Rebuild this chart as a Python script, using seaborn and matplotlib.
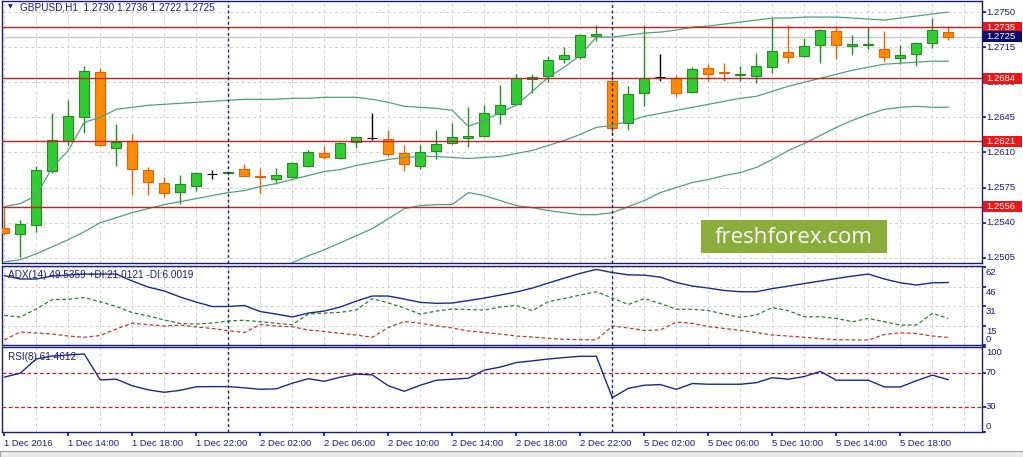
import numpy as np
import matplotlib
matplotlib.use("Agg")
import matplotlib.pyplot as plt
import seaborn as sns
from matplotlib.patches import Rectangle
from matplotlib.transforms import blended_transform_factory

# GBPUSD H1 candles, 1 Dec 10:00 .. 5 Dec 21:00
opens = [1.2535, 1.2529, 1.2538, 1.2592, 1.2621, 1.2645, 1.2690, 1.2614, 1.2621, 1.2593,
         1.2580, 1.2571, 1.2577, 1.2589, 1.2590, 1.2594, 1.2587, 1.2584, 1.2586, 1.2597,
         1.2609, 1.2604, 1.2620, 1.2624, 1.2623, 1.2609, 1.2597, 1.2611, 1.2619, 1.2624,
         1.2626, 1.2648, 1.2658, 1.2683, 1.2686, 1.2703, 1.2705, 1.2726, 1.2681, 1.2639,
         1.2669, 1.2685, 1.2684, 1.2670, 1.2694, 1.2690, 1.2687, 1.2686, 1.2695, 1.2710,
         1.2706, 1.2717, 1.2731, 1.2716, 1.2717, 1.2713, 1.2704, 1.2708, 1.2719, 1.2730]
highs = [1.2555, 1.2543, 1.2597, 1.2649, 1.2662, 1.2696, 1.2694, 1.2638, 1.2628, 1.2596,
         1.2586, 1.2588, 1.2591, 1.2593, 1.2592, 1.2598, 1.2595, 1.2595, 1.2600, 1.2612,
         1.2616, 1.2620, 1.2626, 1.2649, 1.2632, 1.2617, 1.2617, 1.2632, 1.2639, 1.2655,
         1.2657, 1.2677, 1.2688, 1.2688, 1.2706, 1.2715, 1.2728, 1.2737, 1.2689, 1.2676,
         1.2737, 1.2708, 1.2687, 1.2695, 1.2698, 1.2699, 1.2696, 1.2709, 1.2744, 1.2737,
         1.2724, 1.2733, 1.2736, 1.2727, 1.2735, 1.2731, 1.2717, 1.2720, 1.2744, 1.2736]
lows = [1.2528, 1.2506, 1.2531, 1.2590, 1.2617, 1.2629, 1.2616, 1.2597, 1.2568, 1.2568,
        1.2566, 1.2559, 1.2572, 1.2584, 1.2589, 1.2587, 1.2569, 1.2579, 1.2585, 1.2596,
        1.2603, 1.2603, 1.2614, 1.2622, 1.2606, 1.2592, 1.2594, 1.2603, 1.2618, 1.2615,
        1.2625, 1.2638, 1.2657, 1.2669, 1.2680, 1.2699, 1.2703, 1.2721, 1.2627, 1.2632,
        1.2656, 1.2681, 1.2665, 1.2669, 1.2681, 1.2681, 1.2681, 1.2679, 1.2689, 1.2699,
        1.2705, 1.2699, 1.2703, 1.2707, 1.2713, 1.2700, 1.2698, 1.2696, 1.2714, 1.2722]
closes = [1.2530, 1.2539, 1.2593, 1.2622, 1.2646, 1.2691, 1.2617, 1.2620, 1.2594, 1.2581,
          1.2570, 1.2579, 1.2590, 1.2589, 1.2591, 1.2587, 1.2586, 1.2588, 1.2599, 1.2610,
          1.2605, 1.2619, 1.2625, 1.2624, 1.2608, 1.2598, 1.2610, 1.2618, 1.2625, 1.2626,
          1.2649, 1.2657, 1.2684, 1.2685, 1.2702, 1.2707, 1.2727, 1.2728, 1.2634, 1.2668,
          1.2684, 1.2685, 1.2669, 1.2693, 1.2688, 1.2689, 1.2688, 1.2696, 1.2711, 1.2705,
          1.2716, 1.2732, 1.2717, 1.2718, 1.2718, 1.2705, 1.2707, 1.2719, 1.2732, 1.2725]

bb_upper = [1.2556, 1.2559, 1.2567, 1.2595, 1.2612, 1.2640, 1.2645, 1.2653, 1.2655, 1.2657,
            1.2658, 1.2659, 1.2660, 1.2661, 1.2662, 1.2663, 1.2663, 1.2663, 1.2664, 1.2664,
            1.2665, 1.2665, 1.2665, 1.2663, 1.2660, 1.2656, 1.2655, 1.2654, 1.2652, 1.2636,
            1.2642, 1.2650, 1.2657, 1.2671, 1.2685, 1.2695, 1.2707, 1.2725, 1.2725, 1.2727,
            1.2729, 1.2730, 1.2732, 1.2735, 1.2736, 1.2738, 1.2740, 1.2742, 1.2744, 1.2744,
            1.2745, 1.2745, 1.2745, 1.2744, 1.2743, 1.2742, 1.2744, 1.2746, 1.2748, 1.2750]
bb_middle = [1.2501, 1.2503, 1.2509, 1.2516, 1.2523, 1.2531, 1.2540, 1.2545, 1.2550, 1.2554,
             1.2558, 1.2561, 1.2564, 1.2567, 1.2570, 1.2572, 1.2576, 1.2579, 1.2583, 1.2587,
             1.2591, 1.2593, 1.2597, 1.2600, 1.2603, 1.2605, 1.2606, 1.2606, 1.2605, 1.2604,
             1.2605, 1.2606, 1.2609, 1.2612, 1.2617, 1.2622, 1.2628, 1.2635, 1.2637, 1.2641,
             1.2646, 1.2649, 1.2652, 1.2655, 1.2658, 1.2661, 1.2664, 1.2666, 1.2671, 1.2676,
             1.2680, 1.2684, 1.2688, 1.2692, 1.2695, 1.2698, 1.2699, 1.2700, 1.2701, 1.2701]
bb_lower = [1.2446, 1.2447, 1.2451, 1.2437, 1.2434, 1.2422, 1.2435, 1.2437, 1.2445, 1.2451,
            1.2458, 1.2463, 1.2468, 1.2473, 1.2478, 1.2481, 1.2489, 1.2495, 1.2500, 1.2507,
            1.2513, 1.2520, 1.2527, 1.2534, 1.2544, 1.2554, 1.2557, 1.2558, 1.2558, 1.2570,
            1.2567, 1.2562, 1.2557, 1.2555, 1.2552, 1.2550, 1.2548, 1.2548, 1.2550, 1.2556,
            1.2562, 1.2570, 1.2575, 1.2580, 1.2583, 1.2587, 1.2590, 1.2595, 1.2603, 1.2612,
            1.2619, 1.2627, 1.2635, 1.2642, 1.2648, 1.2653, 1.2655, 1.2656, 1.2655, 1.2655]

adx = [55.0, 52.3, 52.3, 54.6, 55.4, 56.2, 56.2, 56.2, 50.7, 45.9,
       42.8, 38.0, 34.0, 30.5, 30.5, 31.3, 26.5, 24.5, 22.2, 25.3,
       26.9, 30.1, 34.8, 38.8, 38.8, 36.4, 33.8, 33.0, 33.3, 35.2,
       37.2, 39.6, 42.0, 45.1, 49.1, 53.0, 56.8, 59.9, 57.4, 55.6,
       55.3, 53.8, 49.5, 46.7, 45.1, 43.2, 42.2, 42.2, 44.7, 46.7,
       48.7, 50.7, 52.7, 54.6, 56.2, 52.3, 49.3, 47.5, 49.3, 49.5]
plus_di = [23.4, 22.2, 28.5, 36.0, 36.2, 37.6, 34.3, 30.5, 25.7, 23.0,
           19.8, 17.0, 16.6, 17.4, 19.0, 19.6, 18.4, 17.2, 16.1, 24.5,
           25.3, 25.9, 27.7, 36.8, 33.3, 29.3, 24.5, 26.9, 28.5, 28.1,
           27.7, 30.1, 31.3, 27.2, 34.4, 36.8, 39.6, 42.2, 37.2, 32.1,
           36.8, 32.9, 28.3, 28.3, 27.3, 24.5, 21.9, 23.8, 29.7, 27.1,
           22.4, 22.4, 21.1, 18.4, 21.1, 18.4, 15.8, 15.8, 25.1, 21.0]
minus_di = [4.0, 10.3, 9.5, 8.7, 7.1, 6.1, 7.5, 12.7, 17.4, 16.1,
            15.0, 15.8, 14.3, 13.1, 11.3, 9.9, 16.2, 15.0, 14.5, 11.9,
            10.7, 9.3, 7.9, 6.1, 13.9, 18.6, 17.2, 15.2, 13.5, 11.1,
            9.9, 8.7, 7.1, 6.3, 5.3, 4.5, 4.2, 4.0, 15.0, 13.5,
            11.5, 11.9, 18.2, 17.2, 14.6, 13.1, 11.6, 9.9, 7.9, 7.1,
            6.1, 5.1, 4.2, 4.0, 4.0, 8.3, 9.7, 9.1, 7.1, 6.0]
rsi = [64.5, 69.2, 85.9, 89.4, 90.6, 91.8, 61.3, 62.1, 54.4, 49.6,
       46.7, 49.1, 53.2, 53.4, 53.4, 52.0, 50.2, 50.8, 57.4, 62.7,
       59.7, 64.5, 68.1, 67.2, 54.4, 47.9, 55.0, 60.9, 62.1, 63.3,
       72.8, 76.4, 81.7, 83.7, 85.9, 87.6, 89.1, 89.1, 40.4, 51.4,
       55.0, 55.8, 50.2, 57.0, 56.2, 56.2, 56.2, 58.0, 63.9, 62.1,
       65.3, 71.3, 60.9, 60.9, 60.9, 53.0, 53.0, 60.3, 66.9, 61.5]

levels = [1.2735, 1.2684, 1.2621, 1.2556]
last_price = 1.2725
price_ticks = [1.2750, 1.2715, 1.2680, 1.2645, 1.2610, 1.2575, 1.2540, 1.2505]
time_labels = ["1 Dec 2016", "1 Dec 14:00", "1 Dec 18:00", "1 Dec 22:00", "2 Dec 02:00",
               "2 Dec 06:00", "2 Dec 10:00", "2 Dec 14:00", "2 Dec 18:00", "2 Dec 22:00",
               "5 Dec 02:00", "5 Dec 06:00", "5 Dec 10:00", "5 Dec 14:00", "5 Dec 18:00"]
day_breaks = [14, 38]

sns.set_theme(style="white")
plt.rcParams["font.family"] = ["Liberation Sans", "DejaVu Sans"]

navy = "#1b1b78"
grid_c = "#cfcfcf"
band_c = "#4ea27a"
red_c = "#c81e1e"
fs = 6.8

W, H = 1023, 457
fig = plt.figure(figsize=(W / 100, H / 100), dpi=100)
fig.patch.set_facecolor("white")


def frac(x0, y0, x1, y1):
    return [x0 / W, 1 - y1 / H, (x1 - x0) / W, (y1 - y0) / H]


ax = fig.add_axes(frac(2, 1, 982, 263))
adx_ax = fig.add_axes(frac(2, 266, 982, 345))
rsi_ax = fig.add_axes(frac(2, 347, 982, 432))

bars = np.arange(len(opens))
o = np.array(opens)
c = np.array(closes)

for a in (ax, adx_ax, rsi_ax):
    a.set_xlim(-0.14, 61.1)
    a.set_facecolor("white")
    for s in a.spines.values():
        s.set_color(navy)
        s.set_linewidth(1)
    a.set_xticks(np.arange(0, 61, 2), minor=True)
    a.grid(which="minor", axis="x", color=grid_c, linestyle=(0, (3, 3)), linewidth=0.7)
    a.tick_params(axis="x", which="minor", length=0)
    a.tick_params(axis="y", which="both", left=False, right=True, labelleft=False,
                  labelright=False, length=3, color=navy, direction="out")
    for b in day_breaks:
        a.axvline(b, color=navy, linestyle=(0, (2, 2)), linewidth=1, zorder=7)

# ---- price panel
ax.set_ylim(1.24998, 1.27610)
ax.set_yticks(price_ticks)
ax.grid(which="major", axis="y", color=grid_c, linestyle=(0, (3, 3)), linewidth=0.7)
ax.set_xticks([])

up = c > o
down = c < o
fill = np.where(up, "#33cc33", np.where(down, "#ff8c00", "black"))
edge = np.where(up, "#248a24", np.where(down, "#e5600a", "black"))
ax.vlines(bars, lows, highs, colors=edge, linewidth=1, zorder=3)
ax.bar(bars, np.abs(c - o), bottom=np.minimum(o, c), width=0.62, color=fill,
       edgecolor=edge, linewidth=0.8, zorder=4)

for series in (bb_upper, bb_middle, bb_lower):
    sns.lineplot(x=bars, y=series, ax=ax, color=band_c, linewidth=0.9, zorder=5)

ax.axhline(last_price, color="#c8c8c8", linewidth=1, zorder=1)
for lv in levels:
    ax.axhline(lv, color=red_c, linewidth=1, zorder=6)

tr = blended_transform_factory(ax.transAxes, ax.transData)
for t in price_ticks:
    ax.text(1.004, t, f"{t:.4f}", transform=tr, ha="left", va="center", fontsize=fs,
            color=navy, clip_on=False)
box_h = 0.00110
for lv in levels:
    ax.add_patch(Rectangle((1.001, lv - box_h / 2), 0.0398, box_h, transform=tr,
                           facecolor="#e81818", edgecolor="none", clip_on=False, zorder=20))
    ax.text(1.004, lv, f"{lv:.4f}", transform=tr, ha="left", va="center", fontsize=fs,
            color="white", clip_on=False, zorder=21)
ax.add_patch(Rectangle((1.001, last_price - box_h / 2 + 0.00005), 0.0398, box_h, transform=tr,
                       facecolor="#0a0a6a", edgecolor="none", clip_on=False, zorder=20))
ax.text(1.004, last_price + 0.00005, f"{last_price:.4f}", transform=tr, ha="left",
        va="center", fontsize=fs, color="white", clip_on=False, zorder=21)

# ---- ADX panel
adx_ax.set_ylim(0, 62.6)
adx_ax.set_yticks([62, 46, 31, 15, 0])
adx_ax.grid(which="major", axis="y", color=grid_c, linestyle=(0, (3, 3)), linewidth=0.7)
adx_ax.set_xticks([])
sns.lineplot(x=bars, y=adx, ax=adx_ax, color="#1a2a8c", linewidth=1, zorder=5)
sns.lineplot(x=bars, y=plus_di, ax=adx_ax, color="#2e7d32", linewidth=0.9,
             linestyle=(0, (3, 2)), zorder=5)
sns.lineplot(x=bars, y=minus_di, ax=adx_ax, color="#c0392b", linewidth=0.9,
             linestyle=(0, (3, 2)), zorder=5)
tr2 = blended_transform_factory(adx_ax.transAxes, adx_ax.transData)
for v in [62, 46, 31, 15]:
    adx_ax.text(1.004, v - 1.0, str(v), transform=tr2, ha="left", va="top", fontsize=fs,
                color=navy, clip_on=False)
adx_ax.text(1.004, 0.8, "0", transform=tr2, ha="left", va="bottom", fontsize=fs,
            color=navy, clip_on=False)

# ---- RSI panel
rsi_ax.set_ylim(0, 100)
rsi_ax.set_yticks([100, 70, 30, 0])
rsi_ax.grid(which="major", axis="y", visible=False)
for lv in (70, 30):
    rsi_ax.axhline(lv, color=red_c, linestyle=(0, (3, 2)), linewidth=0.9, zorder=4)
sns.lineplot(x=bars, y=rsi, ax=rsi_ax, color="#1a2a8c", linewidth=1, zorder=5)
tr3 = blended_transform_factory(rsi_ax.transAxes, rsi_ax.transData)
rsi_ax.text(1.004, 99, "100", transform=tr3, ha="left", va="top", fontsize=fs,
            color=navy, clip_on=False)
for v in (70, 30):
    rsi_ax.text(1.004, v, str(v), transform=tr3, ha="left", va="center", fontsize=fs,
                color=navy, clip_on=False)
rsi_ax.text(1.004, 1.5, "0", transform=tr3, ha="left", va="bottom", fontsize=fs,
            color=navy, clip_on=False)

rsi_ax.set_xticks(np.arange(0, 60, 4))
rsi_ax.set_xticklabels(time_labels, ha="left", fontsize=fs, color=navy)
rsi_ax.tick_params(axis="x", which="major", bottom=True, length=3, color=navy,
                   direction="out", pad=2)
for a in (ax, adx_ax, rsi_ax):
    a.set_xlabel("")
    a.set_ylabel("")

# ---- titles
fig.text(8 / W, 1 - 7 / H, "\u25bc", fontsize=4.5, color=navy, va="center", ha="left",
         family=["DejaVu Sans"])
fig.text(20 / W, 1 - 7 / H, "GBPUSD,H1  1.2730 1.2736 1.2722 1.2725", fontsize=fs + 0.4,
         color=navy, va="center", ha="left")
fig.text(8 / W, 1 - 274.5 / H, "ADX(14) 49.5359 +DI:21.0121 -DI:6.0019", fontsize=fs + 0.4,
         color=navy, va="center", ha="left")
fig.text(8 / W, 1 - 357 / H, "RSI(8) 61.4612", fontsize=fs + 0.4, color=navy,
         va="center", ha="left")

# watermark
fig.patches.append(Rectangle((701 / W, 1 - 253 / H), 186 / W, 33 / H,
                             transform=fig.transFigure, facecolor="#8aad3c",
                             edgecolor="none", zorder=30))
fig.text(794 / W, 1 - 237 / H, "freshforex.com", fontsize=16, color="white",
         ha="center", va="center", family=["Open Sans", "DejaVu Sans"], zorder=31)

# bottom tab strip
fig.patches.append(Rectangle((0, 0), 1, 6 / H, transform=fig.transFigure,
                             facecolor="#ececec", edgecolor="#a0a0a0", linewidth=0.8))

fig.savefig("out.png", dpi=100)
